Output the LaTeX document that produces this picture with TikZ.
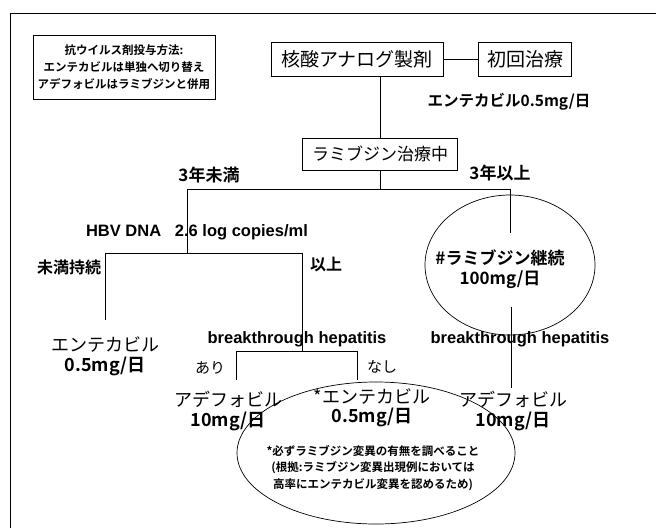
\documentclass[tikz,border=0pt]{standalone}
\usepackage{fontspec}
\setmainfont{Noto Sans CJK JP}[BoldFont={Noto Sans CJK JP Bold}]
\newfontfamily\lat{Liberation Sans}[BoldFont={Liberation Sans Bold}]
\usetikzlibrary{shapes.geometric}
\tikzset{
  ln/.style={line width=0.7pt},
  boxn/.style={draw, line width=0.6pt, inner sep=0pt},
  lbl/.style={inner sep=0pt, align=center},
  ell/.style={draw, ellipse, line width=0.7pt, inner sep=0pt},
}
\newcommand{\fs}[1]{\fontsize{#1}{#1}\selectfont}
\begin{document}
\begin{tikzpicture}[x=1pt,y=-1pt]
\useasboundingbox (0,0) rectangle (656,528);
% frame
\coordinate (fa) at (10,528);
\coordinate (fb) at (10,13);
\coordinate (fc) at (656,13);
\draw[line width=1pt] (fa) -- (fb) -- (fc);
% legend
\node[boxn, minimum width=182pt, minimum height=64pt, align=center] (leg) at (124,67)
  {\fs{11.5}\bfseries 抗ウイルス剤投与方法:\\[5pt]\fs{11.5}\bfseries エンテカビルは単独へ切り替え\\[5pt]\fs{11.5}\bfseries アデフォビルはラミブジンと併用};
% top boxes
\node[boxn, minimum width=172pt, minimum height=34pt] (n1) at (357,59) {\fs{19}核酸アナログ製剤};
\node[boxn, minimum width=93pt, minimum height=34pt] (n2) at (525,59) {\fs{19}初回治療};
\draw[ln] (n1.east) -- (n2.west);
\node[lbl] (t1) at (509,102) {\fs{15.5}\bfseries エンテカビル0.5mg/日};
\node[boxn, minimum width=155pt, minimum height=32pt] (n3) at (380,154) {\fs{17}ラミブジン治療中};
\draw[ln] (n3.north |- n1.south) -- (n3.north);
% first split
\coordinate (j1) at (380,189);
\coordinate (L1) at (187,189);
\coordinate (R1) at (510,189);
\draw[ln] (n3.south) -- (j1);
\draw[ln] (L1) -- (R1);
\node[lbl] (y3a) at (209,175) {\fs{17}\bfseries 3年未満};
\node[lbl] (y3b) at (500,173) {\fs{17}\bfseries 3年以上};
% left branch
\coordinate (L2) at (187,253);
\coordinate (LL) at (105,253);
\coordinate (LR) at (302,253);
\draw[ln] (L1) -- (L2);
\draw[ln] (LL) -- (LR);
\node[lbl] (hbv) at (197,232) {\lat\fs{16.5}\bfseries HBV DNA\ \ \ 2.6 log copies/ml};
\node[lbl] (mm) at (69,267) {\fs{16}\bfseries 未満持続};
\node[lbl] (ij) at (326,265) {\fs{16}\bfseries 以上};
\coordinate (LLb) at (105,320);
\draw[ln] (LL) -- (LLb);
\node[lbl] (ent1) at (105,356) {\fs{18}エンテカビル\\[4pt]\fs{18}\bfseries 0.5mg/日};
% breakthrough left
\coordinate (LRb) at (302,351);
\coordinate (B1) at (236,351);
\coordinate (B2) at (357,351);
\coordinate (B1b) at (236,380);
\coordinate (B2b) at (357,380);
\draw[ln] (LR) -- (LRb);
\draw[ln] (B1) -- (B2);
\draw[ln] (B1) -- (B1b);
\draw[ln] (B2) -- (B2b);
\node[lbl] (bt1) at (297,339) {\lat\fs{16.5}\bfseries breakthrough hepatitis};
\node[lbl] (ari) at (210,368) {\fs{15}あり};
\node[lbl] (nas) at (382,367) {\fs{15}なし};
\node[lbl] (ade1) at (228,411) {\fs{18}アデフォビル\\[3pt]\fs{18}\bfseries 10mg/日};
% bottom ellipse
\node[ell, minimum width=278pt, minimum height=142pt] (e1) at (376,453) {};
\node[lbl] (ent2) at (372,408) {\fs{18}*エンテカビル\\[3pt]\fs{18}\bfseries 0.5mg/日};
\node[lbl] (note) at (373,468) {\fs{11.5}\bfseries *必ずラミブジン変異の有無を調べること\\[4pt]\fs{11.5}\bfseries (根拠:ラミブジン変異出現例においては\\[4pt]\fs{11.5}\bfseries 高率にエンテカビル変異を認めるため)};
% right branch
\node[ell, minimum width=170pt, minimum height=140pt] (e2) at (510,265) {};
\node[lbl] (lam) at (500,269) {\fs{17}\bfseries \#ラミブジン継続\\[4pt]\fs{17}\bfseries 100mg/日};
\coordinate (R2) at (510,233);
\coordinate (R3) at (511,307);
\coordinate (R4) at (511,388);
\draw[ln] (R1) -- (R2);
\draw[ln] (R3) -- (R4);
\node[lbl] (bt2) at (520,339) {\lat\fs{16.5}\bfseries breakthrough hepatitis};
\node[lbl] (ade2) at (513,411) {\fs{18}アデフォビル\\[3pt]\fs{18}\bfseries 10mg/日};
\end{tikzpicture}
\end{document}
